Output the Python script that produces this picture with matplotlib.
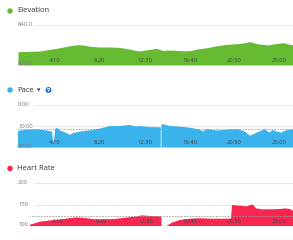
import matplotlib
matplotlib.use('agg')
import matplotlib.pyplot as plt
import matplotlib.transforms as mtransforms
import matplotlib.patches as mpatches
import numpy as np

plt.rcParams['font.family'] = ['Open Sans', 'DejaVu Sans']

### data (time in seconds)
elev_t = [47, 114, 169, 225, 281, 336, 375, 408, 447, 503, 558, 603, 642, 686,
          725, 764, 819, 853, 875, 919, 964, 1003, 1042, 1097, 1153, 1208, 1264,
          1308, 1336, 1375, 1431, 1475, 1519, 1558, 1575]
elev = [813.3, 813.7, 814, 815.7, 817.3, 819.3, 820.3, 820, 818.7, 818, 818,
        817.7, 816.7, 815, 814, 815.3, 816.7, 814.3, 815, 814.7, 814.3, 814.3,
        816, 817.3, 819.3, 820.7, 821.3, 822.3, 823.3, 821.3, 820, 821.3, 822.3,
        820.7, 820]

pace_t = [47, 86, 131, 169, 208, 236, 242, 247, 253, 264, 281, 308, 336, 353,
          392, 447, 503, 530, 558, 614, 669, 700, 725, 781, 836, 840, 842, 844,
          853, 892, 947, 1003, 1058, 1075, 1097, 1153, 1208, 1264, 1308, 1336,
          1375, 1419, 1440, 1447, 1460, 1486, 1510, 1530, 1575]
pace = [12.3, 11.8, 11.5, 11.7, 12.1, 12.6, 17.1, 17.1, 11.4, 10.8, 12.1, 13.0,
        14.1, 13.3, 12.6, 12.0, 11.2, 10.6, 10.0, 10.0, 9.5, 10.2, 10.0, 10.5,
        10.6, 10.6, np.nan, 9.2, 9.2, 10.0, 10.3, 10.8, 11.7, 12.6, 11.4, 12.1,
        11.7, 11.4, 12.6, 14.5, 13.0, 11.5, 12.9, 13.0, 11.8, 12.6, 13.1, 12.1,
        11.5]
pace_avg = 11.4

hr_t = [96, 152, 209, 265, 322, 361, 406, 463, 519, 576, 632, 688, 728, 773,
        830, 838, 850, 869, 897, 942, 999, 1055, 1112, 1168, 1230, 1236, 1281,
        1320, 1337, 1354, 1371, 1405, 1450, 1507, 1535, 1563, 1580]
hr = [103, 110, 113, 114.7, 118.6, 120, 118.6, 115.5, 115.5, 116.3, 119.4,
      121.7, 124.8, 123.3, 122.5, 122.5, np.nan, 100.8, 107.7, 114, 117, 118,
      117, 117, 117, 148.8, 147, 145.7, 148.8, 149.5, 141, 138.8, 138.8, 139.5,
      141, 139.5, 135.6]
hr_avg = 123

xticks = [250, 500, 750, 1000, 1250, 1500]
xticklabels = ['4:10', '8:20', '12:30', '16:40', '20:50', '25:00']

### layout in pixels
W, H = 293, 240
green = '#66bb33'
blue = '#3ab2ec'
red = '#f8254f'
grid = '#e8e8e8'
labelgray = '#777777'
tickgray = '#444444'

fig = plt.figure(figsize=(W/100., H/100.), dpi=100)

def make_ax(left, top, bottom):
    return fig.add_axes([left/W, 1 - bottom/H, (W - left)/W, (bottom - top)/H])

def style(ax, ylim, yticks, ylabels, title, color, title_y, avg=None):
    ax.set_ylim(*ylim)
    ax.set_axis_off()
    trans = mtransforms.blended_transform_factory(fig.transFigure, ax.transData)
    lift = mtransforms.ScaledTranslation(0, 1.2/100., fig.dpi_scale_trans)
    for v, lab in zip(yticks, ylabels):
        ax.plot([35/W, 1], [v, v], color=grid, lw=0.8, transform=trans, zorder=0)
        tr = trans + lift if v == ylim[0] else trans
        ax.text(18/W, v, lab, transform=tr, ha='left', va='center',
                fontsize=4.2, color=labelgray, zorder=5)
    if avg is not None:
        ax.plot([17/W, 1], [avg, avg], color='#9a9a9a', lw=0.6, ls=(0, (2, 1.5)),
                transform=trans, zorder=3)
    xt = ax.get_xaxis_transform()
    for t, lab in zip(xticks, xticklabels):
        ax.text(t, 0.11, lab, transform=xt, ha='center', va='center',
                fontsize=4.2, color=tickgray, zorder=5)
    fig.patches.append(mpatches.Ellipse((10/W, 1 - title_y/H), 5.5/W, 5.5/H,
                                        transform=fig.transFigure, fc=color, ec='none'))
    fig.text(17/W, 1 - title_y/H, title, color='#333333', fontsize=5.5,
             ha='left', va='center')

# elevation
ax1 = make_ax(18, 25, 65)
ax1.fill_between(elev_t, elev, 800, color=green, lw=0, zorder=2)
ax1.set_xlim(47, 1575)
style(ax1, (800, 840), [840, 800], ['840.0', '800.0'], 'Elevation', green, 11)

# pace
ax2 = make_ax(18, 104.5, 147.5)
ax2.fill_between(pace_t, pace, 20, color=blue, lw=0, zorder=2)
ax2.set_xlim(47, 1575)
style(ax2, (20, 0), [0, 10, 20], ['0:00', '10:00', '20:00'], 'Pace', blue, 90, pace_avg)
fig.text(38.5/W, 1 - 90.5/H, u'\u25bc', color='#333333', fontsize=3.2, ha='center', va='center')
fig.patches.append(mpatches.Ellipse((48.5/W, 1 - 90/H), 6/W, 6/H,
                                    transform=fig.transFigure, fc='#1a73c9', ec='none'))
# white question mark drawn as a small path inside the badge
qx, qy = 48.5, 90
fig.lines.append(matplotlib.lines.Line2D(
    [(qx - 1.1)/W, (qx - 0.6)/W, (qx + 0.6)/W, (qx + 1.1)/W, (qx + 0.3)/W, qx/W, qx/W],
    [1 - (qy - 0.8)/H, 1 - (qy - 1.6)/H, 1 - (qy - 1.6)/H, 1 - (qy - 0.8)/H,
     1 - (qy + 0.1)/H, 1 - (qy + 0.4)/H, 1 - (qy + 0.9)/H],
    transform=fig.transFigure, color='white', lw=0.6))
fig.patches.append(mpatches.Ellipse((qx/W, 1 - (qy + 1.8)/H), 0.8/W, 0.8/H,
                                    transform=fig.transFigure, fc='white', ec='none'))

# heart rate
ax3 = make_ax(30, 183, 226)
ax3.fill_between(hr_t, hr, 100, color=red, lw=0, zorder=2)
ax3.set_xlim(96, 1580)
style(ax3, (100, 200), [200, 150, 100], ['200', '150', '100'], 'Heart Rate', red, 168.5, hr_avg)

fig.savefig('out.png', dpi=100)
